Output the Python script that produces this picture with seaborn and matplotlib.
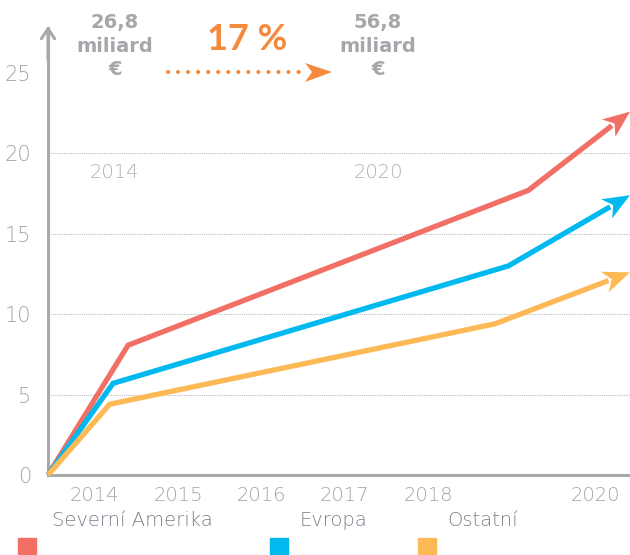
import matplotlib
matplotlib.use("Agg")
import matplotlib.pyplot as plt
import seaborn as sns
import pandas as pd
import numpy as np
from matplotlib.lines import Line2D
from matplotlib.patches import Polygon

# ---- data ----
series = ["Severní Amerika", "Evropa", "Ostatní"]
x_na = [2013.44, 2014.40, 2019.20, 2020.42]
y_na = [0.0, 8.07, 17.7, 22.6]
x_eu = [2013.44, 2014.22, 2018.96, 2020.42]
y_eu = [0.0, 5.7, 13.0, 17.4]
x_ot = [2013.44, 2014.18, 2018.80, 2020.42]
y_ot = [0.0, 4.4, 9.4, 12.6]
xticks = [2014, 2015, 2016, 2017, 2018, 2020]
xticklabels = ["2014", "2015", "2016", "2017", "2018", "2020"]
yticks = [0, 5, 10, 15, 20, 25]
colors = ["#F26F66", "#00B9EE", "#FDB955"]

df = pd.concat([
    pd.DataFrame({"x": x_na, "y": y_na, "s": series[0]}),
    pd.DataFrame({"x": x_eu, "y": y_eu, "s": series[1]}),
    pd.DataFrame({"x": x_ot, "y": y_ot, "s": series[2]}),
])

sns.set_theme(style="white")
plt.rcParams["font.family"] = ["DejaVu Sans"]

W, H = 630, 555
fig = plt.figure(figsize=(6.3, 5.55), dpi=100)
def fx(px): return px / W
def fy(py): return 1 - py / H

ax = fig.add_axes([fx(48), fy(475), fx(630) - fx(48), fy(28) - fy(475)])
ax.set_xlim(2013.44, 2020.42)
ax.set_ylim(0, 27.8)
gray = "#A7A9AC"

LW = 3.8
HL, HW, NOTCH = 27.0, 11.0, 0.72  # arrowhead size in pixels
for i, s in enumerate(series):
    d = df[df.s == s]
    sns.lineplot(data=d, x="x", y="y", ax=ax, color=colors[i], lw=LW,
                 legend=False, sort=False, solid_capstyle="butt",
                 solid_joinstyle="miter", clip_on=False, zorder=3)
    line = ax.get_lines()[-1]
    xs, ys = np.array(d.x, float), np.array(d.y, float)
    pts = ax.transData.transform(np.column_stack([xs, ys]))
    tip, prev = pts[-1], pts[-2]
    u = (tip - prev) / np.linalg.norm(tip - prev)
    n = np.array([-u[1], u[0]])
    inner = tip - NOTCH * HL * u
    poly_px = np.array([tip, tip - HL * u + HW * n, inner, tip - HL * u - HW * n])
    poly = ax.transData.inverted().transform(poly_px)
    ax.add_patch(Polygon(poly, closed=True, color=colors[i], lw=0, clip_on=False, zorder=4))
    # shorten line so it ends inside the arrowhead
    new_end = ax.transData.inverted().transform((tip - 0.85 * HL * u)[None, :])[0]
    lx, ly = list(xs[:-1]), list(ys[:-1])
    line.set_data(lx + [new_end[0]], ly + [new_end[1]])

ax.set_yticks(yticks)
ax.set_yticklabels([str(v) for v in yticks])
ax.set_xticks(xticks)
ax.set_xticklabels(xticklabels)
ax.tick_params(axis="both", length=0, colors="#A3A3A7")
ax.tick_params(axis="y", pad=12, labelsize=15)
ax.tick_params(axis="x", pad=8, labelsize=14)
for lab in ax.get_xticklabels() + ax.get_yticklabels():
    lab.set_fontweight(200)
ax.set_xlabel("")
ax.set_ylabel("")
for v in [5, 10, 15, 20]:
    ax.axhline(v, color="#BDBDBD", lw=0.8, ls=(0, (1, 1)), zorder=1)
for sp in ["top", "right"]:
    ax.spines[sp].set_visible(False)
for sp in ["left", "bottom"]:
    ax.spines[sp].set_color(gray)
    ax.spines[sp].set_linewidth(2.2)
# y axis arrow head
ax.annotate("", xy=(fx(48), fy(26)), xytext=(fx(48), fy(60)), xycoords="figure fraction",
            arrowprops=dict(arrowstyle="->,head_length=0.6,head_width=0.4",
                            color=gray, lw=2.2, shrinkA=0, shrinkB=0))

# header annotations
tc = "#A5A7AA"
fig.text(fx(115), fy(46), "26,8\nmiliard\n€", ha="center", va="center",
         fontsize=14, fontweight="bold", color=tc, linespacing=1.3)
fig.text(fx(378), fy(46), "56,8\nmiliard\n€", ha="center", va="center",
         fontsize=14, fontweight="bold", color=tc, linespacing=1.3)
fig.text(fx(247), fy(40), "17 %", ha="center", va="center",
         fontsize=26, fontweight="bold", color="#F58A3D", family=["Lato", "DejaVu Sans"])
fig.add_artist(Line2D([fx(168), fx(300)], [fy(72), fy(72)], transform=fig.transFigure,
                      color="#F58A3D", lw=3, ls=(0, (0.01, 2.4)), dash_capstyle="round"))
head = np.array([[332, 72], [305, 63], [312, 72], [305, 82]], float)
fig.add_artist(Polygon(np.column_stack([fx(head[:, 0]), fy(head[:, 1])]), closed=True,
                       transform=fig.transFigure, color="#F58A3D", lw=0))
fig.text(fx(114), fy(173), "2014", ha="center", va="center", fontsize=14,
         color="#B0B0B3", fontweight=200)
fig.text(fx(378), fy(173), "2020", ha="center", va="center", fontsize=14,
         color="#B0B0B3", fontweight=200)

# legend
lc = "#78818B"
leg_x = [132, 333, 483]
sq_x = [18, 270, 418]
for i, s in enumerate(series):
    fig.text(fx(leg_x[i]), fy(520), s, ha="center", va="center", fontsize=14,
             color=lc, fontweight=200)
    fig.patches.append(plt.Rectangle((fx(sq_x[i]), fy(555)), fx(18), 17 / H,
                                     transform=fig.transFigure, color=colors[i]))

fig.savefig("out.png", dpi=100)
